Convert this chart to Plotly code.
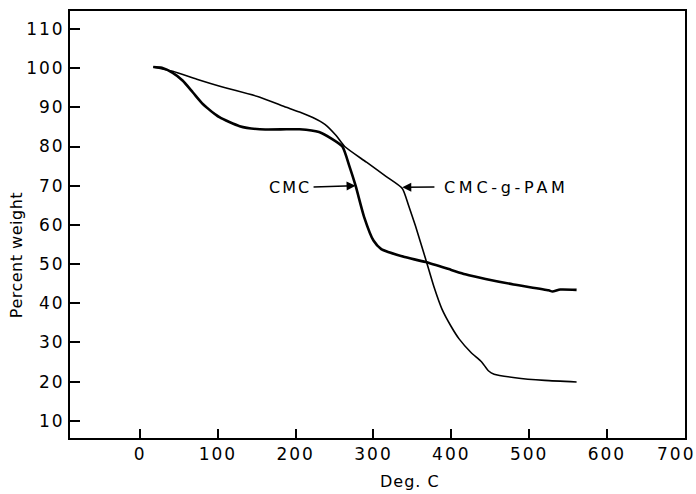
import plotly.graph_objects as go

cmc_x = [17, 28, 42, 55, 68, 81, 102, 128, 154, 188, 205, 230, 247, 260, 269, 277, 288, 300, 310, 320, 340, 367, 400, 418, 444, 480, 525, 530, 540, 561]
cmc_y = [100.3, 100.1, 98.8, 96.8, 93.8, 90.8, 87.5, 85.2, 84.4, 84.4, 84.4, 83.7, 81.9, 80.0, 75.0, 70.0, 62.0, 56.0, 53.8, 53.0, 51.8, 50.5, 48.5, 47.4, 46.2, 44.8, 43.3, 43.0, 43.5, 43.4]

pam_x = [17, 42, 73, 106, 154, 188, 205, 222, 238, 252, 263, 291, 316, 337, 345, 354, 367, 378, 388, 400, 410, 425, 439, 448, 455, 482, 520, 561]
pam_y = [100.3, 99.2, 97.2, 95.2, 92.6, 90.0, 88.8, 87.4, 85.6, 82.8, 80.0, 76.0, 72.4, 69.3, 65.0, 59.7, 51.3, 44.0, 38.5, 34.0, 30.9, 27.5, 25.0, 22.7, 21.9, 21.0, 20.3, 19.9]

x_ticks = [0, 100, 200, 300, 400, 500, 600, 700]
x_ticklabels = ["0", "100", "200", "300", "400", "500", "600", "700"]
y_ticks = [10, 20, 30, 40, 50, 60, 70, 80, 90, 100, 110]
y_ticklabels = ["10", "20", "30", "40", "50", "60", "70", "80", "90", "100", "110"]

FONT = "DejaVu Sans"

def spaced(t, px):
    return f'<span style="letter-spacing:{px}px">{t}</span>'

W, H = 696, 494
L, R, T, B = 70, 9, 11, 56
pw, ph = W - L - R, H - T - B
X0, X1 = -90, 700.3
Y0, Y1 = 5.6, 114.6

fig = go.Figure()
fig.add_trace(go.Scatter(x=cmc_x, y=cmc_y, mode="lines", name="CMC",
                         line=dict(color="black", width=2.6, shape="spline", smoothing=0.6)))
fig.add_trace(go.Scatter(x=pam_x, y=pam_y, mode="lines", name="CMC-g-PAM",
                         line=dict(color="black", width=1.6, shape="spline", smoothing=0.6)))

# last x label (700) is drawn separately since it would overflow the page edge
xt_text = [spaced(t, 2) for t in x_ticklabels[:-1]] + [""]
fig.update_xaxes(range=[X0, X1], tickvals=x_ticks, ticktext=xt_text,
                 ticks="inside", ticklen=9, tickwidth=1.5,
                 tickcolor="black", showline=True, linewidth=2, linecolor="black", mirror=True,
                 showgrid=False, zeroline=False,
                 tickfont=dict(family=FONT, size=17, color="black"))
fig.update_yaxes(range=[Y0, Y1], tickvals=y_ticks, ticktext=[spaced(t, 2) for t in y_ticklabels],
                 ticks="inside", ticklen=10, tickwidth=1.5,
                 tickcolor="black", showline=True, linewidth=2, linecolor="black", mirror=True,
                 showgrid=False, zeroline=False,
                 tickfont=dict(family=FONT, size=17, color="black"))

def px_x(v):
    return L + (v - X0) / (X1 - X0) * pw
def px_y(v):
    return T + (Y1 - v) / (Y1 - Y0) * ph
def paper_x(p):
    return (p - L) / pw
def paper_y(p):
    return 1 - (p - T) / ph

fig.add_annotation(x=paper_x(678), y=paper_y(454), xref="paper", yref="paper",
                   text=spaced(x_ticklabels[-1], 2), showarrow=False,
                   xanchor="center", yanchor="middle", font=dict(family=FONT, size=17, color="black"))

# arrows (head at data point, tail at pixel location)
fig.add_annotation(x=277, y=70, ax=313 - px_x(277), ay=187 - px_y(70),
                   axref="pixel", ayref="pixel", xref="x", yref="y", text="",
                   showarrow=True, arrowhead=2, arrowsize=1.2, arrowwidth=1.5, arrowcolor="black")
fig.add_annotation(x=337, y=69.6, ax=437 - px_x(337), ay=187 - px_y(69.6),
                   axref="pixel", ayref="pixel", xref="x", yref="y", text="",
                   showarrow=True, arrowhead=2, arrowsize=1.2, arrowwidth=1.5, arrowcolor="black")
# labels
fig.add_annotation(x=paper_x(314), y=paper_y(187), xref="paper", yref="paper", text=spaced("CMC", 2),
                   showarrow=False, xanchor="right", yanchor="middle",
                   font=dict(family=FONT, size=16, color="black"))
fig.add_annotation(x=paper_x(443), y=paper_y(187), xref="paper", yref="paper", text=spaced("CMC-g-PAM", 3.7),
                   showarrow=False, xanchor="left", yanchor="middle",
                   font=dict(family=FONT, size=16, color="black"))
# axis titles
fig.add_annotation(x=paper_x(16), y=paper_y(255), xref="paper", yref="paper", text=spaced("Percent weight", 0.5),
                   showarrow=False, textangle=-90, xanchor="center", yanchor="middle",
                   font=dict(family=FONT, size=16, color="black"))
fig.add_annotation(x=paper_x(411), y=paper_y(482), xref="paper", yref="paper", text=spaced("Deg. C", 1),
                   showarrow=False, xanchor="center", yanchor="middle",
                   font=dict(family=FONT, size=16, color="black"))

fig.update_layout(width=W, height=H, margin=dict(l=L, r=R, t=T, b=B),
                  paper_bgcolor="white", plot_bgcolor="white", showlegend=False)
fig.write_html("out.html")
